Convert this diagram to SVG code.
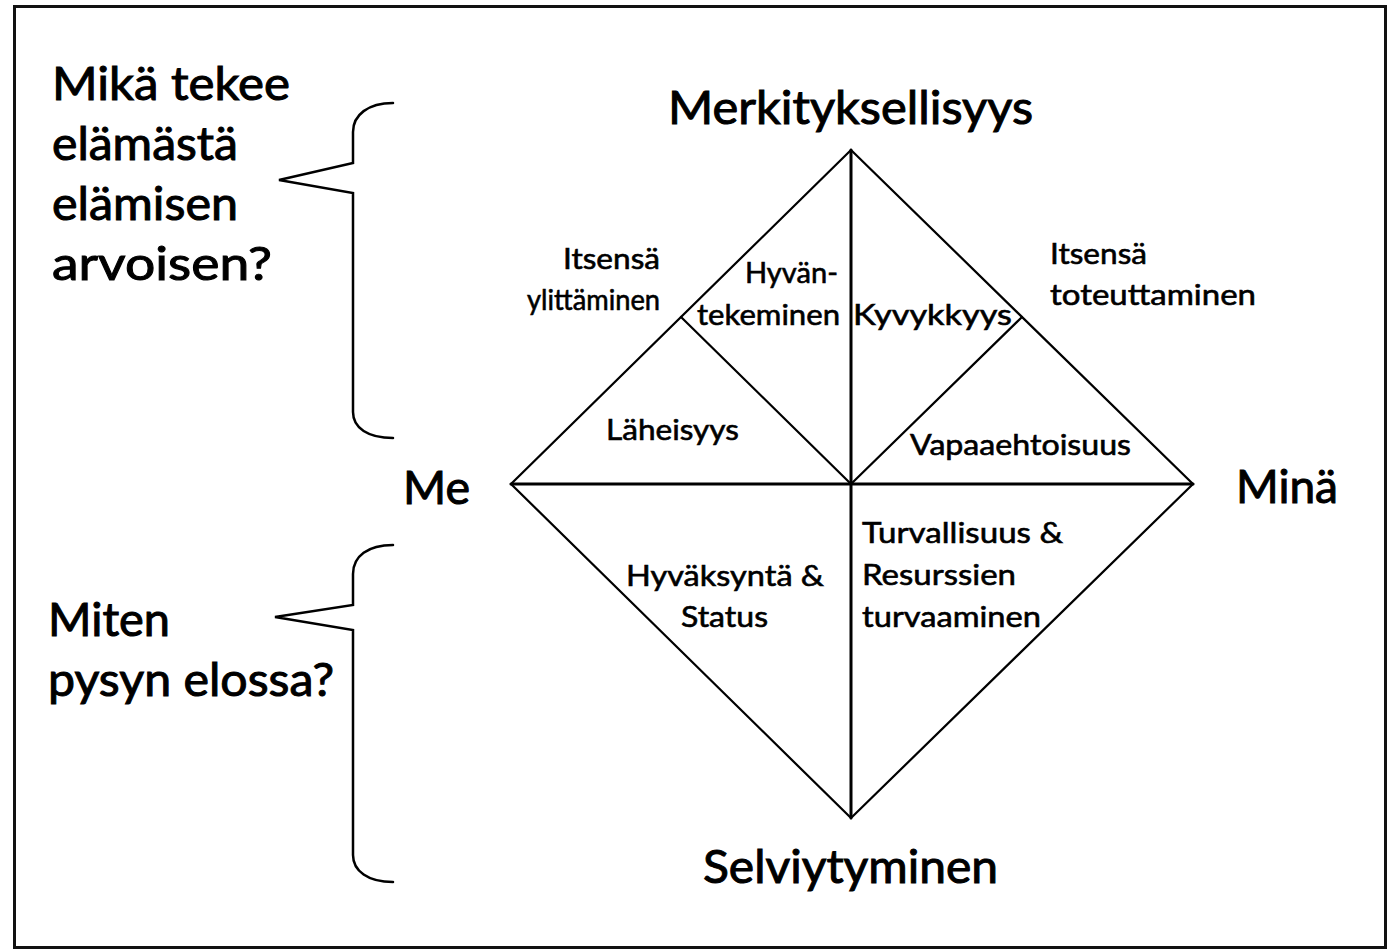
<svg xmlns="http://www.w3.org/2000/svg" width="1391" height="951" viewBox="0 0 1391 951">
<style>
.big{font-family:"Lato","Open Sans","Liberation Sans",sans-serif;font-size:46px;fill:#000;stroke:#000;stroke-width:1}
.sm{font-family:"Lato","Open Sans","Liberation Sans",sans-serif;font-size:29px;fill:#000;stroke:#000;stroke-width:0.6}
.ln{stroke:#000;fill:none;stroke-linecap:round;stroke-linejoin:miter}
</style>
<rect x="0" y="0" width="1391" height="951" fill="#fff"/>
<rect x="14.5" y="6.5" width="1371" height="941" fill="none" stroke="#111" stroke-width="3"/>

<g id="brace-top">
<path class="ln" stroke-width="2.5" d="M393,103 C368,103 353,115 353,132 L353,163 L279,180 L353,193 L353,412 C353,428 368,438 393,438"/>
</g>
<g id="brace-bottom">
<path class="ln" stroke-width="2.5" d="M393,545 C368,545 353,556 353,574 L353,605 L275,617 L353,630 L353,855 C353,871 368,882 393,882"/>
</g>

<g id="diamond">
<polygon class="ln" stroke-width="2.2" points="851,150 1193,484 851,818 511,484"/>
</g>
<g id="connectors">
<line class="ln" stroke-width="3" x1="511" y1="484" x2="1193" y2="484"/>
<line class="ln" stroke-width="3" x1="851" y1="150" x2="851" y2="818"/>
<line class="ln" stroke-width="2.2" x1="681" y1="317" x2="851" y2="484"/>
<line class="ln" stroke-width="2.2" x1="1022" y1="317" x2="851" y2="484"/>
</g>

<g id="question-top">
<text class="big" x="52" y="100" textLength="238" lengthAdjust="spacingAndGlyphs">Mikä tekee</text>
<text class="big" x="52" y="160" textLength="186" lengthAdjust="spacingAndGlyphs">elämästä</text>
<text class="big" x="52" y="220" textLength="186" lengthAdjust="spacingAndGlyphs">elämisen</text>
<text class="big" x="52" y="280" textLength="220" lengthAdjust="spacingAndGlyphs">arvoisen?</text>
</g>
<g id="question-bottom">
<text class="big" x="48" y="636" textLength="122" lengthAdjust="spacingAndGlyphs">Miten</text>
<text class="big" x="48" y="696" textLength="286" lengthAdjust="spacingAndGlyphs">pysyn elossa?</text>
</g>

<g id="axis-top"><text class="big" x="668" y="124" textLength="365" lengthAdjust="spacingAndGlyphs">Merkityksellisyys</text></g>
<g id="axis-left"><text class="big" x="403" y="504" textLength="67" lengthAdjust="spacingAndGlyphs">Me</text></g>
<g id="axis-right"><text class="big" x="1236" y="503" textLength="102" lengthAdjust="spacingAndGlyphs">Minä</text></g>
<g id="axis-bottom"><text class="big" x="703" y="883" textLength="295" lengthAdjust="spacingAndGlyphs">Selviytyminen</text></g>

<g id="itsensa-ylittaminen">
<text class="sm" x="563" y="269" textLength="97" lengthAdjust="spacingAndGlyphs">Itsensä</text>
<text class="sm" x="527" y="310" textLength="133" lengthAdjust="spacingAndGlyphs">ylittäminen</text>
</g>
<g id="itsensa-toteuttaminen">
<text class="sm" x="1050" y="264" textLength="97" lengthAdjust="spacingAndGlyphs">Itsensä</text>
<text class="sm" x="1050" y="305" textLength="206" lengthAdjust="spacingAndGlyphs">toteuttaminen</text>
</g>
<g id="hyvantekeminen">
<text class="sm" x="745" y="283" textLength="93" lengthAdjust="spacingAndGlyphs">Hyvän-</text>
<text class="sm" x="697" y="325" textLength="143" lengthAdjust="spacingAndGlyphs">tekeminen</text>
</g>
<g id="kyvykkyys"><text class="sm" x="853" y="325" textLength="159" lengthAdjust="spacingAndGlyphs">Kyvykkyys</text></g>
<g id="laheisyys"><text class="sm" x="606" y="440" textLength="133" lengthAdjust="spacingAndGlyphs">Läheisyys</text></g>
<g id="vapaaehtoisuus"><text class="sm" x="910" y="455" textLength="221" lengthAdjust="spacingAndGlyphs">Vapaaehtoisuus</text></g>
<g id="hyvaksynta">
<text class="sm" x="626" y="586" textLength="198" lengthAdjust="spacingAndGlyphs">Hyväksyntä &amp;</text>
<text class="sm" x="681" y="627" textLength="87" lengthAdjust="spacingAndGlyphs">Status</text>
</g>
<g id="turvallisuus">
<text class="sm" x="862" y="543" textLength="201" lengthAdjust="spacingAndGlyphs">Turvallisuus &amp;</text>
<text class="sm" x="862" y="585" textLength="154" lengthAdjust="spacingAndGlyphs">Resurssien</text>
<text class="sm" x="862" y="627" textLength="179" lengthAdjust="spacingAndGlyphs">turvaaminen</text>
</g>
</svg>
